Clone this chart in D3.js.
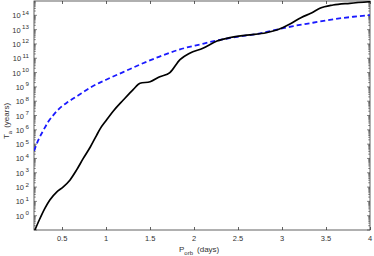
<!DOCTYPE html>
<html><head><meta charset="utf-8">
<script src="https://cdn.jsdelivr.net/npm/d3@7"></script>
<style>body{margin:0;background:#fff}svg{display:block}</style>
</head><body>
<svg id="c" width="374" height="256"></svg>
<script>
// Data (log10 of T_a in years vs P_orb in days)
const blackP = [0.19,0.24,0.305,0.36,0.44,0.51,0.59,0.665,0.74,0.82,0.89,0.93,1.0,1.08,1.195,1.31,1.385,1.5,1.61,1.725,1.84,1.95,2.1,2.26,2.41,2.6,2.82,2.94,3.09,3.22,3.34,3.43,3.58,3.77,4.0];
const blackLogT = [-1,-0.3,0.53,1.1,1.67,2.0,2.5,3.2,4.0,4.8,5.6,6.05,6.65,7.3,8.08,8.83,9.25,9.36,9.71,10.0,10.9,11.35,11.7,12.2,12.45,12.62,12.78,12.97,13.39,13.85,14.18,14.49,14.72,14.84,14.95];
const blueP = [0.18,0.23,0.29,0.34,0.40,0.47,0.55,0.63,0.72,0.82,1.0,1.2,1.4,1.6,1.84,2.07,2.29,2.52,2.75,2.94,3.13,3.35,3.58,3.81,4.0];
const blueLogT = [4.52,5.29,6.0,6.55,7.03,7.5,7.88,8.2,8.55,8.95,9.5,10.05,10.6,11.1,11.62,11.97,12.28,12.52,12.74,13.0,13.25,13.48,13.72,13.9,14.02];
const xTicks = [0.5,1,1.5,2,2.5,3,3.5,4];
const xTickLabels = ["0.5","1","1.5","2","2.5","3","3.5","4"];
const yTickExps = [0,1,2,3,4,5,6,7,8,9,10,11,12,13,14];

const svg = d3.select("#c");
const L = 34, R = 370, T = 1, B = 230;
const x = d3.scaleLinear().domain([0.18, 4]).range([L, R]);
const y = d3.scaleLog().domain([1e-1, 1e15]).range([B, T]);
const axisCol = "#3a3a3a", txtCol = "#333";

svg.append("defs").append("clipPath").attr("id","clip")
  .append("rect").attr("x",L).attr("y",T).attr("width",R-L).attr("height",B-T);

// frame
svg.append("rect").attr("x",L).attr("y",T).attr("width",R-L).attr("height",B-T)
  .attr("fill","none").attr("stroke",axisCol).attr("stroke-width",0.8);

// x ticks (bottom & top)
const gx = svg.append("g");
xTicks.forEach((v,i)=>{
  const px = Math.round(x(v))+0.5;
  gx.append("line").attr("x1",px).attr("x2",px).attr("y1",B).attr("y2",B-3).attr("stroke",axisCol).attr("stroke-width",0.8);
  gx.append("line").attr("x1",px).attr("x2",px).attr("y1",T).attr("y2",T+3).attr("stroke",axisCol).attr("stroke-width",0.8);
  gx.append("text").attr("x",x(v)).attr("y",241).attr("text-anchor","middle")
    .attr("font-family","Liberation Sans, Arial, sans-serif").attr("font-size",7.5).attr("fill",txtCol).text(xTickLabels[i]);
});

// y ticks: major and minor (left & right)
const gy = svg.append("g");
for (let e = -1; e < 15; e++) {
  for (let m = 1; m <= 9; m++) {
    const v = m * Math.pow(10, e);
    const py = y(v);
    if (py < T || py > B) continue;
    const len = m === 1 ? 3 : 1.8;
    gy.append("line").attr("x1",L).attr("x2",L+len).attr("y1",py).attr("y2",py).attr("stroke",axisCol).attr("stroke-width",0.6);
    gy.append("line").attr("x1",R).attr("x2",R-len).attr("y1",py).attr("y2",py).attr("stroke",axisCol).attr("stroke-width",0.6);
  }
}
yTickExps.forEach(e=>{
  const py = y(Math.pow(10,e));
  const t = gy.append("text").attr("x",29).attr("y",py+3).attr("text-anchor","end")
    .attr("font-family","Liberation Sans, Arial, sans-serif").attr("font-size",7.5).attr("fill",txtCol);
  t.append("tspan").text("10");
  t.append("tspan").attr("dx",1.5).attr("dy",-3.5).attr("font-size",6.2).text(String(e));
});

// curves
const line = d3.line().x(d=>x(d[0])).y(d=>y(Math.pow(10,d[1]))).curve(d3.curveMonotoneX);
const gp = svg.append("g").attr("clip-path","url(#clip)");
gp.append("path").datum(d3.zip(blueP, blueLogT)).attr("d",line)
  .attr("fill","none").attr("stroke","#1a1aff").attr("stroke-width",1.8).attr("stroke-dasharray","5,3");
gp.append("path").datum(d3.zip(blackP, blackLogT)).attr("d",line)
  .attr("fill","none").attr("stroke","#000").attr("stroke-width",1.7);

// axis labels
const xl = svg.append("text").attr("x",179).attr("y",252)
  .attr("font-family","Liberation Sans, Arial, sans-serif").attr("font-size",8).attr("fill",txtCol);
xl.append("tspan").text("P");
xl.append("tspan").attr("dy",3).attr("font-size",6).text("orb");
xl.append("tspan").attr("dy",-3).attr("dx",4).text("(days)");

const yl = svg.append("text").attr("transform","translate(9,121) rotate(-90)").attr("text-anchor","middle")
  .attr("font-family","Liberation Sans, Arial, sans-serif").attr("font-size",8).attr("fill",txtCol);
yl.append("tspan").text("T");
yl.append("tspan").attr("dy",2.5).attr("font-size",6).text("a");
yl.append("tspan").attr("dy",-2.5).attr("dx",3).text("(years)");
</script>
</body></html>
